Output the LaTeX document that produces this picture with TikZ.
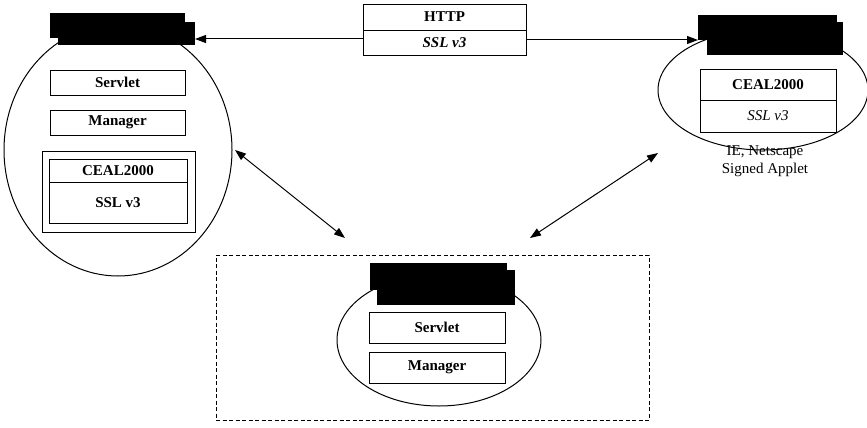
\documentclass[tikz,border=0pt]{standalone}
\usepackage{fontspec}
\setmainfont{Liberation Serif}
\usetikzlibrary{arrows.meta,shapes.geometric}

\tikzset{
  every node/.style={inner sep=0pt, outer sep=0pt},
  txt/.style={font=\fontsize{15}{18}\selectfont\bfseries},
  box/.style={draw, line width=0.9pt, fill=white, txt},
  oval/.style={draw, ellipse, line width=1pt},
  blot/.style={fill=black, draw=none},
  link/.style={line width=1pt, {Triangle[length=11pt,width=8pt]}-{Triangle[length=11pt,width=8pt]}},
  plain/.style={font=\fontsize{15}{18}\selectfont}
}

\begin{document}
\begin{tikzpicture}[x=1pt, y=-1pt]
\useasboundingbox (0,0) rectangle (867,428);

% ---------- server (left) ----------
\node[oval, minimum width=228pt, minimum height=252pt] (ellL) at (118,150) {};
\node[blot, minimum width=135pt, minimum height=25pt] (redLa) at (117.5,25.5) {};
\node[blot, minimum width=137pt, minimum height=23pt] (redLb) at (126.5,33.5) {};
\node[box, minimum width=135pt, minimum height=25pt] (servL) at (117.5,82.5) {Servlet};
\node[box, minimum width=135pt, minimum height=25pt] (manL) at (117.5,122.5) {Manager};
\node[draw, line width=0.9pt, minimum width=153pt, minimum height=81pt] (stackL) at (118.5,191.5) {};
\node[box, minimum width=138pt, minimum height=23pt] (cealL) at (118,170.5) {CEAL2000};
\node[box, minimum width=138pt, minimum height=41pt] (sslL) at (118,202.5) {SSL v3};

% ---------- protocol stack on the link ----------
\node[box, minimum width=163pt, minimum height=26pt] (http) at (444.5,17) {HTTP};
\node[box, minimum width=163pt, minimum height=25pt] (sslH) at (444.5,42.5) {\itshape SSL v3};

% ---------- client (right) ----------
\node[oval, minimum width=210pt, minimum height=120pt] (ellR) at (763,90) {};
\node[blot, minimum width=139pt, minimum height=25pt] (redRa) at (767.5,27.5) {};
\node[blot, minimum width=136pt, minimum height=33pt] (redRb) at (775,38.5) {};
\node[box, minimum width=136pt, minimum height=31pt] (cealR) at (768,84.5) {CEAL2000};
\node[box, minimum width=136pt, minimum height=32pt, font=\fontsize{15}{18}\selectfont\itshape] (sslR) at (768,116) {SSL v3};
\node[plain] (ie) at (765,152) {IE, Netscape};
\node[plain] (applet) at (765,170) {Signed Applet};

% ---------- remote server (bottom) ----------
\node[draw, dashed, dash pattern=on 4pt off 2.5pt, line width=0.9pt, minimum width=433pt, minimum height=165pt] (frame) at (432.5,337.5) {};
\node[oval, minimum width=204pt, minimum height=132pt] (ellB) at (439,340) {};
\node[blot, minimum width=137pt, minimum height=27pt] (redBa) at (438.5,276.5) {};
\node[blot, minimum width=138pt, minimum height=35pt] (redBb) at (446,287.5) {};
\node[box, minimum width=136pt, minimum height=31pt] (servB) at (437,327.5) {Servlet};
\node[box, minimum width=136pt, minimum height=31pt] (manB) at (437,367.5) {Manager};

% ---------- connectors ----------
\draw[line width=1pt, -{Triangle[length=11pt,width=8pt]}] ([yshift=3.5pt]sslH.west) -- ([yshift=3.5pt]sslH.west -| redLb.east);
\draw[line width=1pt, -{Triangle[length=11pt,width=8pt]}] ([yshift=2.5pt]sslH.east) -- ([yshift=2.5pt]sslH.east -| redRa.west);

\coordinate (aL1) at (235,150);
\coordinate (aL2) at (345,238);
\coordinate (aR1) at (658,153);
\coordinate (aR2) at (530,238);
\draw[link] (aL1) -- (aL2);
\draw[link] (aR1) -- (aR2);
\end{tikzpicture}
\end{document}
